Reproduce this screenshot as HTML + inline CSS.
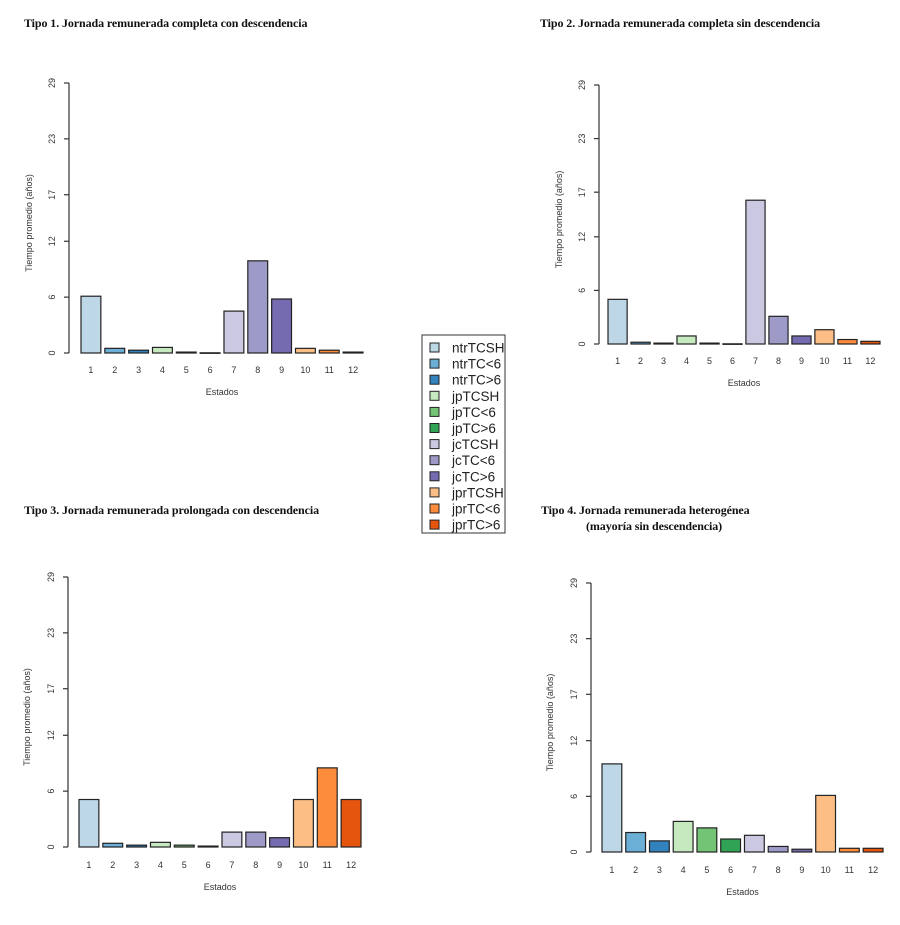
<!DOCTYPE html>
<html><head><meta charset="utf-8"><style>
body{margin:0;background:#fff;width:900px;height:925px;overflow:hidden}
svg{display:block}
.t{font-family:"Liberation Serif",serif;font-weight:bold;font-size:12px;letter-spacing:-0.1px;fill:#111}
.s{font-family:"Liberation Sans",sans-serif;font-size:9px;fill:#333}
.lg{font-family:"Liberation Sans",sans-serif;font-size:13.5px;fill:#222}
</style></head><body>
<svg id="c" width="900" height="925" viewBox="0 0 900 925">
<text class="t" x="24" y="27">Tipo 1. Jornada remunerada completa con descendencia</text>
<text class="t" x="540" y="27">Tipo 2. Jornada remunerada completa sin descendencia</text>
<text class="t" x="24" y="514">Tipo 3. Jornada remunerada prolongada con descendencia</text>
<text class="t" x="541" y="514">Tipo 4. Jornada remunerada heterogénea</text>
<text class="t" x="586" y="530">(mayoría sin descendencia)</text>
<g id="legend"></g>
</svg>
<script>
const categories=["1","2","3","4","5","6","7","8","9","10","11","12"];
const seriesNames=["ntrTCSH","ntrTC<6","ntrTC>6","jpTCSH","jpTC<6","jpTC>6","jcTCSH","jcTC<6","jcTC>6","jprTCSH","jprTC<6","jprTC>6"];
const colors=["#bdd7e7","#6baed6","#3182bd","#c7e9c0","#74c476","#31a354","#cbc9e2","#9e9ac8","#756bb1","#fdbe85","#fd8d3c","#e6550d"];
const yTicks=[0,6,12,17,23,29];
const values1=[6.1,0.5,0.3,0.6,0.1,0.02,4.5,9.9,5.8,0.5,0.3,0.1];
const values2=[5.0,0.2,0.1,0.9,0.1,0.02,16.1,3.1,0.9,1.6,0.5,0.3];
const values3=[5.1,0.4,0.2,0.5,0.2,0.1,1.6,1.6,1.0,5.1,8.5,5.1];
const values4=[9.5,2.1,1.2,3.3,2.6,1.4,1.8,0.6,0.3,6.1,0.4,0.4];
const NS="http://www.w3.org/2000/svg";
const svg=document.getElementById('c');
function mk(tag,attrs,parent){const e=document.createElementNS(NS,tag);for(const k in attrs)e.setAttribute(k,attrs[k]);(parent||svg).appendChild(e);return e;}
const panels=[
 {id:1,vals:values1,ax:69,y0:353,yt:83,x0:81,x1:363,ty:373,xl:395,yx:32},
 {id:2,vals:values2,ax:599,y0:344,yt:85,x0:608,x1:880,ty:364,xl:386,yx:562},
 {id:3,vals:values3,ax:68,y0:847,yt:577,x0:79,x1:361,ty:868,xl:890,yx:30},
 {id:4,vals:values4,ax:591,y0:852,yt:583,x0:602,x1:883,ty:873,xl:895,yx:553}
];
panels.forEach(p=>{
 const g=mk('g',{});
 
 
 const yMax=yTicks[yTicks.length-1];
 const y=v=>p.y0-(v/yMax)*(p.y0-p.yt);
 const w=(p.x1-p.x0)/(categories.length*1.2-0.2);
 const x=i=>p.x0+i*1.2*w;
 const axis=mk('line',{x1:p.ax,x2:p.ax,y1:y(0),y2:y(yMax),stroke:'#333','stroke-width':1.2},g);
 
 
 yTicks.forEach(t=>{
  const tk=mk('line',{x1:p.ax-5,x2:p.ax,y1:y(t),y2:y(t),stroke:'#333','stroke-width':1.2},g);
  
  
  const lx=p.ax-14,ly=y(t);
  const tl=mk('text',{x:lx,y:ly,class:'s','text-anchor':'middle',transform:`rotate(-90 ${lx} ${ly})`},g);
  tl.textContent=t;
  
  
 });
 p.vals.forEach((v,i)=>{
  const r=mk('rect',{x:x(i),y:y(v),width:w,height:Math.max(y(0)-y(v),0.5),fill:colors[i],stroke:'#222','stroke-width':1.2},g);
  
  
  const tl=mk('text',{x:x(i)+w/2,y:p.ty,class:'s','text-anchor':'middle'},g);
  tl.textContent=categories[i];
  
  
 });
 const xl=mk('text',{x:(p.x0+p.x1)/2,y:p.xl,class:'s','text-anchor':'middle'},g);
 xl.textContent='Estados';
 
 
 const ymid=(p.y0+p.yt)/2+5;
 const yl=mk('text',{x:p.yx,y:ymid,class:'s','text-anchor':'middle',transform:`rotate(-90 ${p.yx} ${ymid})`},g);
 yl.textContent='Tiempo promedio (años)';
 
 
});
const lg=document.getElementById('legend');
mk('rect',{x:422,y:335,width:83,height:198,fill:'#fff',stroke:'#333','stroke-width':1},lg);
seriesNames.forEach((n,i)=>{
 const yy=348+i*16.1;
 const sq=mk('rect',{x:430,y:yy-5,width:9,height:9,fill:colors[i],stroke:'#222','stroke-width':1},lg);
 
 
 const t=mk('text',{x:452,y:yy+4.5,class:'lg'},lg);
 t.textContent=n;
 
 
});
</script>
</body></html>
